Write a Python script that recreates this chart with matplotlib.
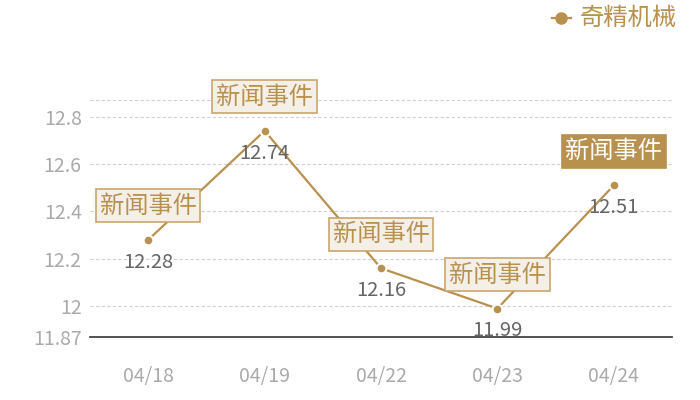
import matplotlib.pyplot as plt

plt.rcParams['font.family'] = ['Noto Sans CJK SC', 'DejaVu Sans']

dates = ['04/18', '04/19', '04/22', '04/23', '04/24']
prices = [12.28, 12.74, 12.16, 11.99, 12.51]
series_name = '奇精机械'
event_text = '新闻事件'
y_ticks = [11.87, 12, 12.2, 12.4, 12.6, 12.8]
y_tick_labels = ['11.87', '12', '12.2', '12.4', '12.6', '12.8']
y_min, y_max = 11.87, 12.87

gold = '#b8914f'
box_edge = '#c9a66e'
box_fill = '#f4efe7'
grey_txt = '#aaaaaa'
value_txt = '#666666'

fig = plt.figure(figsize=(7, 4), dpi=100)
ax = fig.add_axes([0.1286, 0.1575, 0.8314, 0.5925])

x = list(range(len(dates)))
line, = ax.plot(x, prices, color=gold, linewidth=1.6, marker='o',
                markersize=7, markerfacecolor=gold, markeredgecolor='white',
                markeredgewidth=1.5, zorder=3, label=series_name)

ax.set_xlim(-0.5, len(dates) - 0.5)
ax.set_ylim(y_min, y_max)
ax.set_xticks(x)
ax.set_xticklabels(dates)
ax.set_yticks(y_ticks)
ax.set_yticklabels(y_tick_labels)

# grid lines (dashed, light)
for v in y_ticks[1:] + [y_max]:
    ax.axhline(v, color='#d0d0d0', linewidth=0.8, linestyle=(0, (3, 2)), zorder=1)

for s in ['top', 'right', 'left']:
    ax.spines[s].set_visible(False)
ax.spines['bottom'].set_color('#333333')
ax.spines['bottom'].set_linewidth(1.2)
ax.tick_params(axis='both', length=0, colors=grey_txt, labelsize=14)
ax.tick_params(axis='x', pad=21)
ax.tick_params(axis='y', pad=6)

# value labels below points
for xi, p in zip(x, prices):
    ax.annotate(f'{p:.2f}', (xi, p), xytext=(0, -16), textcoords='offset points',
                ha='center', va='center', color=value_txt, fontsize=14.5, zorder=5)

# event boxes above points, last one highlighted
for i, (xi, p) in enumerate(zip(x, prices)):
    last = i == len(x) - 1
    ax.annotate(event_text, (xi, p), xytext=(0, 24.5), textcoords='offset points',
                ha='center', va='center', fontsize=17.5,
                color='white' if last else gold,
                bbox=dict(boxstyle='square,pad=0.15',
                          facecolor=gold if last else box_fill,
                          edgecolor=gold if last else box_edge, linewidth=1.2),
                zorder=6)

# legend: short solid line with dot
ax.plot([0.788, 0.816], [0.955, 0.955], transform=fig.transFigure, clip_on=False,
        color=gold, linewidth=1.6)
ax.plot([0.802], [0.955], transform=fig.transFigure, clip_on=False,
        marker='o', markersize=8, color=gold, linestyle='none')
fig.text(0.828, 0.955, series_name, color=gold, fontsize=17.5, ha='left', va='center')

fig.savefig('out.png', dpi=100)
